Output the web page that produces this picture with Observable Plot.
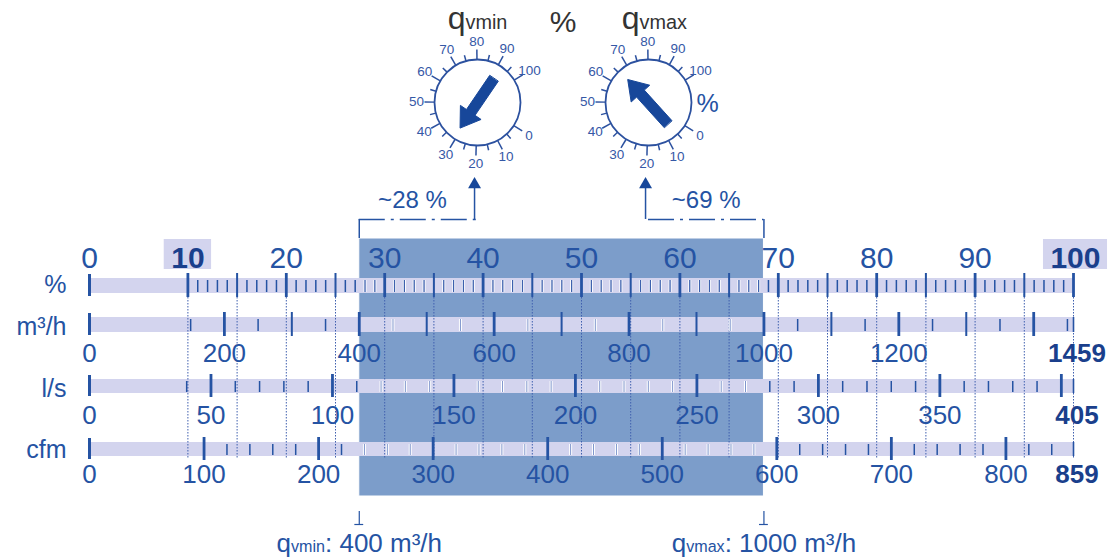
<!DOCTYPE html>
<html><head><meta charset="utf-8">
<script src="https://cdn.jsdelivr.net/npm/d3@7"></script>
<script src="https://cdn.jsdelivr.net/npm/@observablehq/plot@0.6"></script>
<style>
html,body{margin:0;padding:0;background:#fff;}
#chart{width:1110px;height:558px;overflow:hidden;}
svg text{font-family:"Liberation Sans",Arial,Helvetica,sans-serif;}
</style></head><body><div id="chart"></div>
<script>
// ---------------- data ----------------
const units = ["%", "m³/h", "l/s", "cfm"];
const unitMax = [100, 1459, 405, 859];
const pctLabels = [0, 10, 20, 30, 40, 50, 60, 70, 80, 90, 100];
const pctBoldLabels = [10, 100];
const m3hLabels = [0, 200, 400, 600, 800, 1000, 1200, 1459];
const lsLabels = [0, 50, 100, 150, 200, 250, 300, 350, 405];
const cfmLabels = [0, 100, 200, 300, 400, 500, 600, 700, 800, 859];
const boldLabels = [1459, 405, 859];
const tickStart = [10, 150, 40, 100];
const tickStep = [1, 50, 10, 20];
const tickMid = [5, 100, 0, 0];
const tickMajor = [10, 200, 50, 100];
const qvmin = 400, qvmax = 1000;            // m³/h
const qvPctText = ["~28 %", "~69 %"];
const dialNames = ["qvmin", "qvmax"];
const dialPointer = [31, 66];              // pointer position read from the dials
const dialLabels = [0, 10, 20, 30, 40, 50, 60, 70, 80, 90, 100];
const dialTicks = [0,5,10,15,20,25,30,35,40,45,50,55,60,65,70,75,80,85,90,95,100];
const bottomTexts = ["qvmin: 400 m³/h", "qvmax: 1000 m³/h"];

// ---------------- layout ----------------
const W = 1110, H = 558, X0 = 89, X1 = 1073, KX = (X1 - X0) / 100;
const pxToPct = px => (px - X0) / KX;
const rowTop = [278, 317, 379, 442], rowBot = [293, 332, 393, 456];
const rowLabelBase = [292, 334, 396, 457];
const valueBase = [267, 361, 423, 482];
const boxTop = 238, boxBottom = 496, bracketY = 219;
const dialCx = [pxToPct(477), pxToPct(648)], dialCy = 102, dialR = 43;
const cBlue = "#2553a3", cDark = "#1a3f8c", cBar = "#d3d4ee", cBox = "#7c9dca", cNavy = "#17479a";

const toPct = (i, v) => v / unitMax[i] * 100;
const boxP1 = toPct(1, qvmin), boxP2 = toPct(1, qvmax);

// ticks
const tickData = [];
units.forEach((u, i) => {
  const max = unitMax[i];
  const vals = [0, ...d3.range(tickStart[i], max + 1e-9, tickStep[i])];
  if (vals[vals.length - 1] !== max) vals.push(max);
  vals.forEach(v => {
    let cls;
    if (v === 0) cls = "zero";
    else if (v % tickMajor[i] === 0) cls = "major";
    else if (v === max) cls = "end";
    else if (tickMid[i] && v % tickMid[i] === 0) cls = "mid";
    else cls = "minor";
    const p = toPct(i, v);
    tickData.push({row: i, v, p, cls, inBox: p > boxP1 + 0.3 && p < boxP2 - 0.3});
  });
});
const ext = {zero: [-4, 3], major: [-5, 4], mid: [-5, 4], minor: [2, -1], end: [0, 0]};
const tk = cls => tickData.filter(d => d.cls === cls);
const tickMark = (data, opts) => Plot.ruleX(data, {
  x: "p", y1: d => rowTop[d.row] + ext[d.cls][0], y2: d => rowBot[d.row] + ext[d.cls][1], ...opts});

// value labels
const valueRows = [
  {row: 1, vals: m3hLabels}, {row: 2, vals: lsLabels}, {row: 3, vals: cfmLabels}
];
const valueData = valueRows.flatMap(r => r.vals.map(v => ({row: r.row, v, p: toPct(r.row, v), bold: boldLabels.includes(v) && v === unitMax[r.row]})));

// dotted verticals every 5 %
const dotted = d3.range(10, 101, 5);

// dials
const ang = v => (-32.5 - 2.96 * v) * Math.PI / 180;
const dialPt = (k, v, r) => {
  const a = ang(v);
  return {x: dialCx[k] + r * Math.cos(a) / KX, y: dialCy - r * Math.sin(a)};
};
const dialTickData = [0, 1].flatMap(k => dialTicks.map(v => {
  const major = v % 10 === 0;
  const a = dialPt(k, v, dialR), b = dialPt(k, v, dialR + (major ? 10 : 6));
  return {x1: a.x, y1: a.y, x2: b.x, y2: b.y};
}));
const dialLabelData = [0, 1].flatMap(k => dialLabels.map(v => ({...dialPt(k, v, 61), t: String(v)})));
const pointerData = [0, 1].flatMap(k => {
  const a = ang(dialPointer[k]);
  const ux = Math.cos(a), uy = -Math.sin(a), nx = -uy, ny = ux;
  const cxp = X0 + dialCx[k] * KX, cy = dialCy;
  const T = [cxp - 29 * ux, cy - 29 * uy], P = [cxp + 31 * ux, cy + 31 * uy];
  const B = [P[0] - 19 * ux, P[1] - 19 * uy];
  const sw = 5.2, hw = 12.5;
  const pts = [
    [T[0] + sw * nx, T[1] + sw * ny], [B[0] + sw * nx, B[1] + sw * ny], [B[0] + hw * nx, B[1] + hw * ny],
    P, [B[0] - hw * nx, B[1] - hw * ny], [B[0] - sw * nx, B[1] - sw * ny], [T[0] - sw * nx, T[1] - sw * ny]
  ];
  return pts.map(p => ({k, x: pxToPct(p[0]), y: p[1]}));
});

// bold label boxes (10 and 100)
const boldBox = pctBoldLabels.map(v => {
  const half = String(v).length * 0.556 * 30 / 2 + 7;
  const cx = X0 + v * KX + (v === 100 ? 2 : 0);
  return {x1: pxToPct(cx - half), x2: pxToPct(cx + half)};
});

const chart = Plot.plot({
  width: W, height: H, margin: 0,
  x: {type: "linear", domain: [0, 100], range: [X0, X1], axis: null},
  y: {type: "linear", domain: [0, H], range: [0, H], axis: null},
  style: {background: "white", overflow: "visible"},
  marks: [
    // highlighted range
    Plot.rect([0], {x1: boxP1, x2: boxP2, y1: boxTop, y2: boxBottom, fill: cBox, stroke: "white", strokeWidth: 1}),
    // bracket
    Plot.ruleY([0], {y: bracketY, x1: boxP1, x2: dialCx[0], stroke: cBlue, strokeWidth: 1.5, strokeDasharray: "26,6,3,6"}),
    Plot.ruleY([0], {y: bracketY, x1: dialCx[1], x2: boxP2, stroke: cBlue, strokeWidth: 1.5, strokeDasharray: "26,6,3,6"}),
    Plot.ruleX([boxP1, boxP2], {x: d => d, y1: bracketY, y2: boxTop, stroke: cBlue, strokeWidth: 1.5}),
    Plot.ruleX(dialCx, {x: d => d - 0.3, y1: bracketY, y2: 187, stroke: cBlue, strokeWidth: 1.5}),
    Plot.dot(dialCx, {x: d => d - 0.3, y: 184, symbol: "triangle", r: 4.8, fill: cNavy, stroke: "none"}),
    Plot.text(qvPctText, {x: (d, i) => i === 0 ? (boxP1 + dialCx[0]) / 2 - 0.6 : (dialCx[1] + boxP2) / 2, y: 207, text: d => d, fontSize: 24, fill: cBlue, lineAnchor: "bottom"}),
    // % labels
    Plot.rect(boldBox, {x1: "x1", x2: "x2", y1: 239, y2: 269, fill: cBar}),
    Plot.text(pctLabels.filter(v => !pctBoldLabels.includes(v)), {x: d => d, y: valueBase[0], text: d => String(d), fontSize: 30, fill: cBlue, lineAnchor: "bottom"}),
    Plot.text(pctBoldLabels, {x: d => d + (d === 100 ? 0.2 : 0), y: valueBase[0], text: d => String(d), fontSize: 30, fontWeight: "bold", fill: cDark, lineAnchor: "bottom"}),
    // bars
    Plot.rect(units, {x1: 0, x2: 100, y1: (d, i) => rowTop[i], y2: (d, i) => rowBot[i], fill: cBar}),
    // dotted lines
    Plot.ruleX(dotted, {x: d => d, y1: 294, y2: 459, stroke: "#3f5fae", strokeWidth: 1, strokeDasharray: "1.5,1.5"}),
    // ticks
    tickMark(tk("minor").filter(d => !d.inBox), {stroke: cBlue, strokeWidth: 1.5}),
    tickMark(tk("minor").filter(d => d.inBox), {stroke: "white", strokeWidth: 3}),
    tickMark(tk("minor").filter(d => d.inBox && d.row === 0), {stroke: "#3d61ae", strokeWidth: 1.3}),
    tickMark(tk("minor").filter(d => d.inBox && d.row > 0), {stroke: "#7f96cc", strokeWidth: 1}),
    tickMark(tk("end"), {stroke: cBlue, strokeWidth: 1.6}),
    tickMark(tk("mid"), {stroke: cBlue, strokeWidth: 2}),
    tickMark(tk("major"), {stroke: cBlue, strokeWidth: 2.8}),
    tickMark(tk("zero"), {stroke: cBlue, strokeWidth: 3}),
    // unit value labels
    Plot.text(valueData.filter(d => !d.bold), {x: "p", y: d => valueBase[d.row], text: d => String(d.v), fontSize: 26, fill: cBlue, lineAnchor: "bottom"}),
    Plot.text(valueData.filter(d => d.bold), {x: d => d.p + 0.35, y: d => valueBase[d.row], text: d => String(d.v), fontSize: 26, fontWeight: "bold", fill: cDark, lineAnchor: "bottom"}),
    // row labels
    Plot.text(units, {x: 0, dx: -23, y: (d, i) => rowLabelBase[i], text: d => d, fontSize: 25, fill: cBlue, textAnchor: "end", lineAnchor: "bottom"}),
    // bottom markers and labels
    Plot.ruleX([boxP1, boxP2], {x: d => d, y1: 511, y2: 524, stroke: cBlue, strokeWidth: 1.2}),
    Plot.ruleY([boxP1, boxP2], {y: 524, x1: d => d - 0.45, x2: d => d + 0.45, stroke: cBlue, strokeWidth: 1.2}),
    Plot.text(bottomTexts, {x: (d, i) => i === 0 ? boxP1 : boxP2, y: 551, text: d => d, fontSize: 26, fill: cBlue, lineAnchor: "bottom"}),
    // dials
    Plot.link(dialTickData, {x1: "x1", y1: "y1", x2: "x2", y2: "y2", stroke: "#2c519f", strokeWidth: 1.5}),
    Plot.dot(dialCx, {x: d => d, y: dialCy, r: dialR, fill: "white", stroke: "#2c519f", strokeWidth: 1.8}),
    Plot.text(dialLabelData, {x: "x", y: "y", text: "t", fontSize: 13.5, fill: "#3558a6"}),
    Plot.line(pointerData, {x: "x", y: "y", z: "k", fill: cNavy, stroke: cNavy, strokeWidth: 1, curve: "linear-closed"}),
    Plot.text(dialNames, {x: (d, i) => dialCx[i] + (i ? 0.6 : 0), y: 28, text: d => d, fontSize: 32, fill: "#333", lineAnchor: "bottom"}),
    Plot.text(["%"], {x: (dialCx[0] + dialCx[1]) / 2, y: 31, text: d => d, fontSize: 30, fill: "#333", lineAnchor: "bottom"}),
    Plot.text(["%"], {x: dialCx[1] + 59 / KX, y: 111, text: d => d, fontSize: 25, fill: cBlue, lineAnchor: "bottom"})
  ]
});

// subscripts for q_vmin / q_vmax
const NS = "http://www.w3.org/2000/svg";
chart.querySelectorAll("text").forEach(t => {
  const s = t.textContent;
  const m = s.match(/^q(vmin|vmax)(.*)$/);
  if (!m) return;
  while (t.firstChild) t.removeChild(t.firstChild);
  const a = document.createElementNS(NS, "tspan"); a.textContent = "q";
  const b = document.createElementNS(NS, "tspan"); b.textContent = m[1]; b.setAttribute("font-size", "0.62em");
  t.appendChild(a); t.appendChild(b);
  if (m[2]) { const c = document.createElementNS(NS, "tspan"); c.textContent = m[2]; t.appendChild(c); }
});
document.getElementById("chart").appendChild(chart);
</script></body></html>
